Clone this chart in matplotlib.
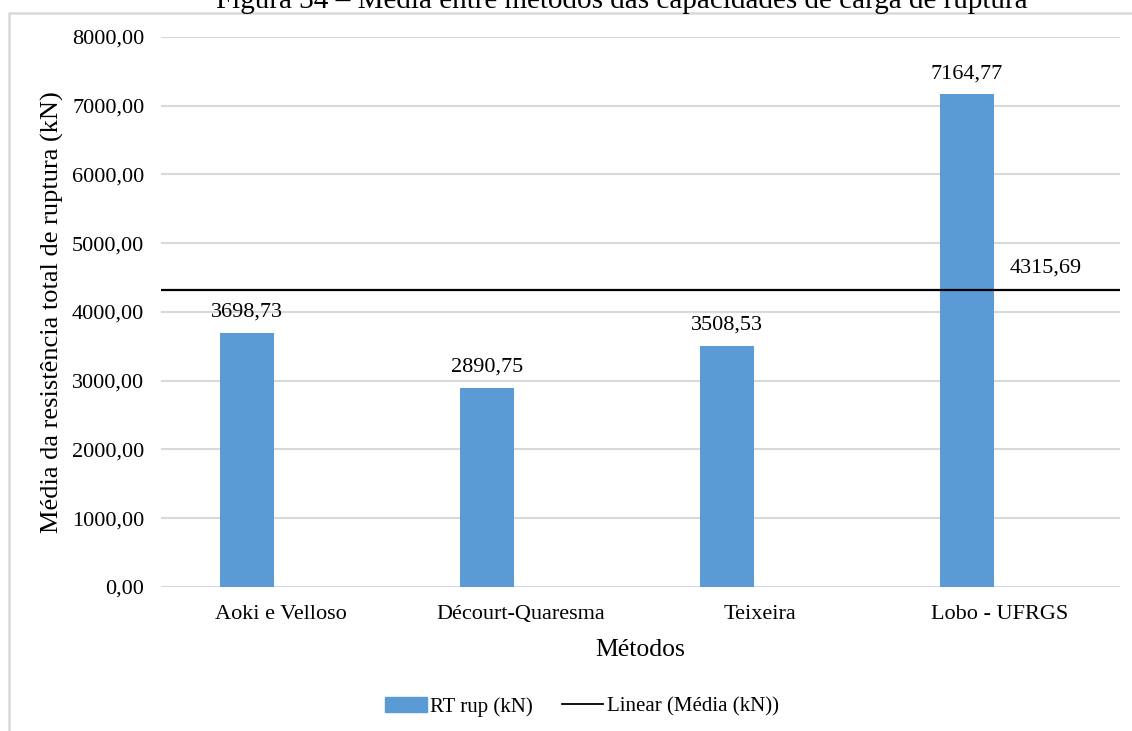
import matplotlib.pyplot as plt
import matplotlib.patches as mpatches
from matplotlib.lines import Line2D
import numpy as np

plt.rcParams['font.family'] = ['Liberation Serif', 'DejaVu Serif']

metodos = ["Aoki e Velloso", "Décourt-Quaresma", "Teixeira", "Lobo - UFRGS"]
rt_rup = [3698.73, 2890.75, 3508.53, 7164.77]
media = 4315.69
y_ticks = [0, 1000, 2000, 3000, 4000, 5000, 6000, 7000, 8000]

def br(v):
    return ("%.2f" % v).replace(".", ",")

fig = plt.figure(figsize=(11.32, 7.31), dpi=100)
ax = fig.add_axes([0.1422, 0.197, 0.8472, 0.7524])

x = np.arange(len(metodos))
bar_color = "#5B9BD5"
ax.bar(x - 0.14, rt_rup, width=0.225, color=bar_color, zorder=3)
for xi, v in zip(x, rt_rup):
    ax.annotate(br(v), (xi - 0.14, v), xytext=(0, 15), textcoords="offset points",
                ha="center", va="center", fontsize=16)

# mean line across the whole plot
ax.axhline(media, color="black", lw=1.6, zorder=4)
ax.annotate(br(media), (3.19, media), xytext=(0, 16), textcoords="offset points",
            ha="center", va="center", fontsize=16)

ax.set_xlim(-0.5, 3.5)
ax.set_ylim(0, 8000)
ax.set_yticks(y_ticks)
ax.set_yticklabels([br(t) for t in y_ticks], fontsize=16)
ax.set_xticks(x)
ax.set_xticklabels(metodos, fontsize=16)
ax.tick_params(length=0)
ax.tick_params(axis="x", pad=13)
ax.tick_params(axis="y", pad=12)
ax.grid(axis="y", color="#D9D9D9", lw=1.5, zorder=0)
for s in ax.spines.values():
    s.set_visible(False)

ax.set_xlabel("Métodos", fontsize=18.5, labelpad=11)
ax.set_ylabel("Média da resistência total de ruptura (kN)", fontsize=19, labelpad=6)

handles = [mpatches.Patch(color=bar_color, label="RT rup (kN)"),
           Line2D([0], [0], color="black", lw=1.3, label="Linear (Média (kN))")]
fig.legend(handles=handles, loc="center", bbox_to_anchor=(0.514, 0.033), ncol=2,
           frameon=False, fontsize=15, handlelength=2.0, handletextpad=0.15,
           columnspacing=1.4)

# chart frame and figure caption
frame = mpatches.Rectangle((9 / 1132, -0.1), 1.2, 1 - 13 / 731 + 0.1,
                           transform=fig.transFigure, fill=False,
                           edgecolor="#D9D9D9", lw=1.8, clip_on=False)
fig.patches.append(frame)
fig.text(622 / 1132, 1 - 8 / 731, "Figura 34 – Média entre métodos das capacidades de carga de ruptura",
         ha="center", va="baseline", fontsize=21)

fig.savefig("out.png", dpi=100)
